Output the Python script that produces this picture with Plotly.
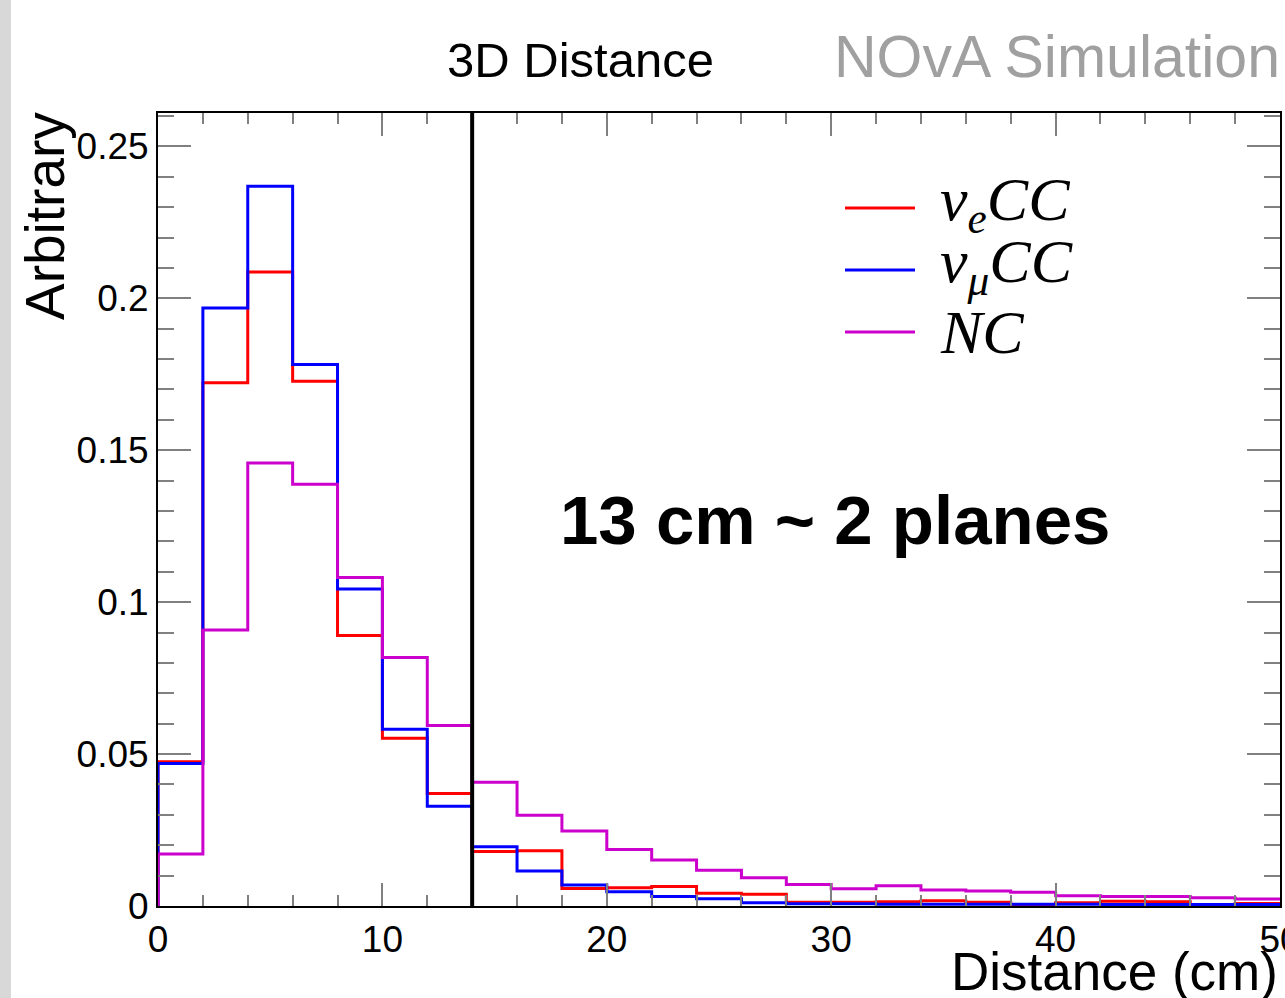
import plotly.graph_objects as go

# ---- data ----
bin_edges = [0, 2, 4, 6, 8, 10, 12, 14, 16, 18, 20, 22, 24, 26, 28, 30, 32, 34, 36, 38, 40, 42, 44, 46, 48, 50]
nue_cc = [0.0475, 0.1722, 0.2087, 0.1727, 0.0890, 0.0552, 0.0370, 0.0179, 0.0182, 0.0058,
          0.0060, 0.0064, 0.0042, 0.0039, 0.0012, 0.0012, 0.0014, 0.0017, 0.0012, 0.0004,
          0.0011, 0.0016, 0.0014, 0.0005, 0.0008]
numu_cc = [0.0469, 0.1968, 0.2369, 0.1782, 0.1043, 0.0582, 0.0328, 0.0195, 0.0115, 0.0069,
           0.0047, 0.0031, 0.0024, 0.0011, 0.0007, 0.0007, 0.0006, 0.0006, 0.0006, 0.0006,
           0.0006, 0.0005, 0.0005, 0.0005, 0.0005]
nc = [0.0171, 0.0908, 0.1458, 0.1388, 0.1081, 0.0818, 0.0594, 0.0407, 0.0299, 0.0247,
      0.0186, 0.0151, 0.0118, 0.0093, 0.0071, 0.0057, 0.0067, 0.0053, 0.0049, 0.0045,
      0.0034, 0.0031, 0.0031, 0.0027, 0.0023]
series_names = ["ν<sub>e</sub>CC", "ν<sub>μ</sub>CC", "NC"]
series_colors = ["#ff0000", "#0000ff", "#cc00cc"]
cut_value = 14
x_tickvals = [0, 10, 20, 30, 40, 50]
x_ticktext = ["0", "10", "20", "30", "40", "50"]
y_tickvals = [0, 0.05, 0.1, 0.15, 0.2, 0.25]
y_ticktext = ["0", "0.05", "0.1", "0.15", "0.2", "0.25"]

W, H = 1285, 998
L, R, T, B = 158, 5, 113, 92
PW, PH = W - L - R, H - T - B


def px2paper(px, py):
    return (px - L) / PW, (H - B - py) / PH


def step_xy(edges, vals):
    xs = [edges[0]] + list(edges[:-1]) + [edges[-1]]
    ys = [0] + list(vals) + [vals[-1]]
    return xs, ys


fig = go.Figure()
for vals, name, col in zip([nue_cc, numu_cc, nc], series_names, series_colors):
    xs, ys = step_xy(bin_edges, vals)
    fig.add_trace(go.Scatter(x=xs, y=ys, mode="lines", line=dict(color=col, width=3, shape="hv"),
                             name=name, showlegend=False, hoverinfo="skip"))

# vertical cut line
fig.add_shape(type="line", xref="x", yref="paper", x0=cut_value, x1=cut_value, y0=0, y1=1,
              line=dict(color="black", width=4))

# left gray strip
fig.add_shape(type="rect", xref="paper", yref="paper",
              x0=px2paper(0, 0)[0], x1=px2paper(11, 0)[0], y0=px2paper(0, 998)[1], y1=px2paper(0, 0)[1],
              fillcolor="#d8d8d8", line=dict(width=0), layer="below")

# manual legend
legend_rows = [208, 270, 332]
text_offsets = [-5, -5, 0]
for (name, col, ry, off) in zip(series_names, series_colors, legend_rows, text_offsets):
    x0, y0 = px2paper(845, ry)
    x1, _ = px2paper(915, ry)
    fig.add_shape(type="line", xref="paper", yref="paper", x0=x0, x1=x1, y0=y0, y1=y0,
                  line=dict(color=col, width=3))
    tx, ty = px2paper(938, ry + off)
    fig.add_annotation(xref="paper", yref="paper", x=tx, y=ty, xanchor="left", yanchor="middle",
                       text=name, showarrow=False,
                       font=dict(family="Liberation Serif", size=62, color="black", style="italic"))

sans = "Liberation Sans"
ax, ay = px2paper(580, 60)
fig.add_annotation(xref="paper", yref="paper", x=ax, y=ay, text="3D Distance", showarrow=False,
                   xanchor="center", yanchor="middle", font=dict(family=sans, size=49, color="black"))
ax, ay = px2paper(832, 57)
fig.add_annotation(xref="paper", yref="paper", x=ax, y=ay, text="NOvA Simulation", showarrow=False,
                   xanchor="left", yanchor="middle", font=dict(family=sans, size=59, color="#a0a0a0"))
ax, ay = px2paper(835, 520)
fig.add_annotation(xref="paper", yref="paper", x=ax, y=ay, text="<b>13 cm ~ 2 planes</b>", showarrow=False,
                   xanchor="center", yanchor="middle", font=dict(family=sans, size=69, color="black"))
ax, ay = px2paper(45, 216)
fig.add_annotation(xref="paper", yref="paper", x=ax, y=ay, text="Arbitrary", showarrow=False, textangle=-90,
                   xanchor="center", yanchor="middle", font=dict(family=sans, size=55, color="black"))
ax, ay = px2paper(1280, 971)
fig.add_annotation(xref="paper", yref="paper", x=ax, y=ay, text="Distance (cm)", showarrow=False,
                   xanchor="right", yanchor="middle", font=dict(family=sans, size=53, color="black"))

tickgray = "#808080"
fig.update_xaxes(range=[0, 50], tickvals=x_tickvals, ticktext=x_ticktext, ticks="inside", ticklen=23,
                 tickwidth=2, tickcolor=tickgray, showline=True, linecolor="black", linewidth=2,
                 mirror="allticks", showgrid=False, zeroline=False, ticklabeloverflow="allow",
                 tickfont=dict(family=sans, size=37, color="black"),
                 minor=dict(dtick=2, tick0=0, ticks="inside", ticklen=11, tickwidth=2, tickcolor=tickgray,
                            showgrid=False))
fig.update_yaxes(range=[0, 0.261], tickvals=y_tickvals, ticktext=y_ticktext, ticks="inside", ticklen=33,
                 tickwidth=2, tickcolor=tickgray, showline=True, linecolor="black", linewidth=2,
                 mirror="allticks", showgrid=False, zeroline=False,
                 tickfont=dict(family=sans, size=37, color="black"),
                 minor=dict(dtick=0.01, tick0=0, ticks="inside", ticklen=16, tickwidth=2, tickcolor=tickgray,
                            showgrid=False))

fig.update_layout(width=W, height=H, margin=dict(l=L, r=R, t=T, b=B, autoexpand=False),
                  paper_bgcolor="white", plot_bgcolor="white", showlegend=False)

fig.write_html("out.html", config={"displayModeBar": False},
               post_script="document.body.style.margin='0';document.body.style.overflow='hidden';")
